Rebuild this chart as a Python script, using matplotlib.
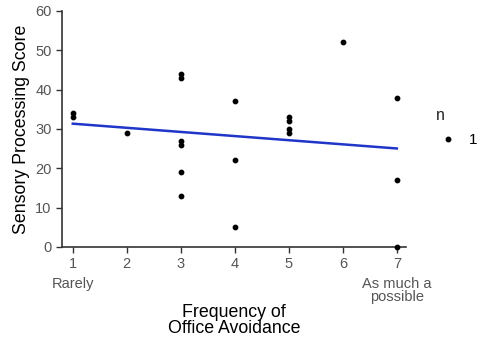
import numpy as np
import matplotlib
matplotlib.use("Agg")
import matplotlib.pyplot as plt
from matplotlib.lines import Line2D

plt.rcParams['font.family'] = ['Liberation Sans', 'DejaVu Sans']

freq = [1, 1, 2, 3, 3, 3, 3, 3, 3, 4, 4, 4, 5, 5, 5, 5, 6, 7, 7, 7]
score = [34, 33, 29, 44, 43, 27, 26, 19, 13, 37, 22, 5, 33, 32, 30, 29, 52, 38, 17, 0]
xticks = [1, 2, 3, 4, 5, 6, 7]
xtick_labels = ['1', '2', '3', '4', '5', '6', '7']
yticks = [0, 10, 20, 30, 40, 50, 60]
end_labels = {1: 'Rarely', 7: 'As much a\npossible'}

fig = plt.figure(figsize=(4.8, 3.47), dpi=100)
ax = fig.add_axes([62/480, 1-247/347, (406-62)/480, (247-11)/347])

ax.scatter(freq, score, s=10, color='black', zorder=3, clip_on=False)
coef = np.polyfit(freq, score, 1)
xs = np.array([min(freq), max(freq)])
ax.plot(xs, np.polyval(coef, xs), color='#1f36c8', lw=1.8, zorder=2)

ax.set_xlim(0.8, 7.17)
ax.set_ylim(0, 60)
ax.set_xticks(xticks)
ax.set_xticklabels(xtick_labels)
ax.set_yticks(yticks)
for s in ['top', 'right']:
    ax.spines[s].set_visible(False)
for s in ['left', 'bottom']:
    ax.spines[s].set_color('#333333')
    ax.spines[s].set_linewidth(1.2)
ax.tick_params(axis='both', colors='#333333', labelcolor='#555555', labelsize=10.5, length=4, width=1)
ax.tick_params(axis='x', pad=3)

for xv, lab in end_labels.items():
    ax.annotate(lab, xy=(xv, 0), xycoords=('data', 'axes fraction'), xytext=(0, -21.5),
                textcoords='offset points', ha='center', va='top', fontsize=10.5,
                color='#555555', linespacing=0.9)

ax.set_ylabel('Sensory Processing Score', fontsize=12.8, labelpad=4)
ax.set_xlabel('Frequency of\nOffice Avoidance', fontsize=12.8, labelpad=24, linespacing=0.95)

handle = Line2D([], [], marker='o', color='black', linestyle='none', markersize=3.2)
leg = fig.legend([handle], ['1'], title='n', loc='upper left', bbox_to_anchor=(0.895, 0.705),
                 frameon=False, fontsize=11, title_fontsize=11.5, handlelength=1.6,
                 handletextpad=0.6, borderaxespad=0, labelspacing=0.3)
leg._legend_box.align = 'left'
leg._legend_box.sep = 7
leg.get_title().set_color('#222222')

fig.savefig('out.png', dpi=100)
